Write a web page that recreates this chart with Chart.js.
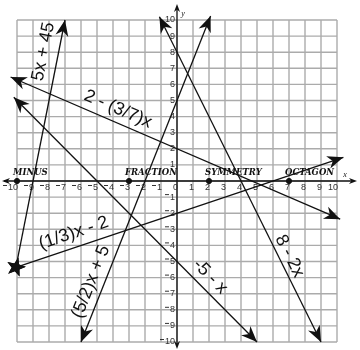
<!DOCTYPE html>
<html>
<head>
<meta charset="utf-8">
<script src="https://cdn.jsdelivr.net/npm/chart.js@4"></script>
<style>
  body { margin: 0; background: #fff; }
</style>
</head>
<body>
<canvas id="graph" width="360" height="350"></canvas>
<script>
// lines and their end points
const lineNames = ['5x + 45', '2 - (3/7)x', '(1/3)x - 2', '(5/2)x + 5', '-5 - x', '8 - 2x']
const startX = [-10.07, -10.4, -10.07, -6, -10.2, -1.1]
const startY = [-5.36, 6.46, -5.36, -10, 5.2, 10.2]
const endX = [-7, 10.2, 10.4, 2.1, 5, 9]
const endY = [10, -2.37, 1.47, 10.25, -10, -10]

// words sitting on the number line
const wordX = [-10, -3, 2, 7]
const words = ['MINUS', 'FRACTION', 'SYMMETRY', 'OCTAGON']

const tickValues = [-10, -9, -8, -7, -6, -5, -4, -3, -2, -1, 0, 1, 2, 3, 4, 5, 6, 7, 8, 9, 10]

// how each line ends and where its name goes (fraction along line, px off the line)
const startTip = ['star', 'arrow', 'star', 'arrow', 'arrow', 'arrow']
const labelT = [0.86, 0.31, 0.19, 0.17, 0.77, 0.75]
const labelOff = [-15, -13, -14, -13, -13, -10]

const labelFont = '18px "Liberation Sans", Arial, sans-serif'

function arrowHead(ctx, tx, ty, fx, fy, len, wid) {
    const a = Math.atan2(ty - fy, tx - fx)
    ctx.save()
    ctx.translate(tx, ty)
    ctx.rotate(a)
    ctx.beginPath()
    ctx.moveTo(0, 0)
    ctx.lineTo(-len, -wid / 2)
    ctx.lineTo(-len * 0.7, 0)
    ctx.lineTo(-len, wid / 2)
    ctx.closePath()
    ctx.fill()
    ctx.restore()
}

function star(ctx, cx, cy, r1, r2) {
    ctx.beginPath()
    for (let i = 0; i < 10; i++) {
        const r = i % 2 == 0 ? r1 : r2
        const a = -Math.PI / 2 + i * Math.PI / 5 + 0.25
        ctx.lineTo(cx + r * Math.cos(a), cy + r * Math.sin(a))
    }
    ctx.closePath()
    ctx.fill()
}

// tick number with a small raised minus, right edge at x
function tickLabel(ctx, v, x, y) {
    const s = String(Math.abs(v))
    ctx.fillText(s, x, y)
    if (v < 0) {
        const w = ctx.measureText(s).width
        ctx.fillRect(x - w - 5, y - 3, 4, 1)
    }
}

// grid, axes and tick numbers
const gridPlugin = {
    id: 'gridPlugin',
    beforeDatasetsDraw(chart) {
        const ctx = chart.ctx
        const xs = chart.scales.x
        const ys = chart.scales.y
        const x0 = xs.getPixelForValue(0)
        const y0 = ys.getPixelForValue(0)
        const left = xs.getPixelForValue(-10), right = xs.getPixelForValue(10)
        const top = ys.getPixelForValue(10), bottom = ys.getPixelForValue(-10)

        ctx.save()
        ctx.strokeStyle = '#ababab'
        ctx.lineWidth = 1.4
        tickValues.forEach(function(v) {
            const px = xs.getPixelForValue(v)
            const py = ys.getPixelForValue(v)
            ctx.beginPath()
            ctx.moveTo(px, top)
            ctx.lineTo(px, bottom)
            ctx.stroke()
            ctx.beginPath()
            ctx.moveTo(left, py)
            ctx.lineTo(right, py)
            ctx.stroke()
        })

        // axes
        ctx.strokeStyle = '#111'
        ctx.fillStyle = '#111'
        ctx.lineWidth = 1.3
        ctx.beginPath()
        ctx.moveTo(4, y0)
        ctx.lineTo(354, y0)
        ctx.moveTo(x0, 7)
        ctx.lineTo(x0, 346)
        ctx.stroke()
        arrowHead(ctx, 357, y0, 300, y0, 8, 6)
        arrowHead(ctx, 2, y0, 100, y0, 8, 6)
        arrowHead(ctx, x0, 4, x0, 100, 8, 6)
        arrowHead(ctx, x0, 349, x0, 200, 8, 6)

        // tick numbers
        ctx.font = '9px "Liberation Sans", Arial, sans-serif'
        ctx.fillStyle = '#333'
        ctx.textBaseline = 'middle'
        ctx.textAlign = 'right'
        tickValues.forEach(function(v) {
            tickLabel(ctx, v, xs.getPixelForValue(v) + 1, y0 + 7)
            if (v != 0) tickLabel(ctx, v, x0 - 2, ys.getPixelForValue(v))
        })

        ctx.font = 'italic 8px "Liberation Serif", serif'
        ctx.fillStyle = '#111'
        ctx.textAlign = 'center'
        ctx.fillText('x', 345, y0 - 6)
        ctx.fillText('y', 183, 14)
        ctx.restore()
    },
    afterDatasetsDraw(chart) {
        const ctx = chart.ctx
        ctx.save()
        ctx.fillStyle = '#111'

        // arrow heads and stars
        lineNames.forEach(function(name, i) {
            const pts = chart.getDatasetMeta(i).data
            const a = pts[0], b = pts[1]
            arrowHead(ctx, b.x, b.y, a.x, a.y, 16, 13)
            if (startTip[i] == 'arrow') arrowHead(ctx, a.x, a.y, b.x, b.y, 16, 13)
            else star(ctx, a.x, a.y, 10, 4.2)
        })

        // line names
        ctx.font = labelFont
        ctx.textAlign = 'center'
        ctx.textBaseline = 'middle'
        lineNames.forEach(function(name, i) {
            const pts = chart.getDatasetMeta(i).data
            const a = pts[0], b = pts[1]
            const ang = Math.atan2(b.y - a.y, b.x - a.x)
            const px = a.x + (b.x - a.x) * labelT[i]
            const py = a.y + (b.y - a.y) * labelT[i]
            ctx.save()
            ctx.translate(px, py)
            ctx.rotate(ang)
            ctx.fillText(name, 0, labelOff[i])
            ctx.restore()
        })

        // number line words
        const wordMeta = chart.getDatasetMeta(lineNames.length).data
        ctx.font = 'bold italic 8.5px "DejaVu Serif", serif'
        ctx.textAlign = 'left'
        ctx.textBaseline = 'alphabetic'
        words.forEach(function(w, i) {
            ctx.fillText(w, wordMeta[i].x - 4, wordMeta[i].y - 6)
        })
        ctx.restore()
    }
}

const datasets = lineNames.map(function(name, i) {
    return {
        label: name,
        data: [{x: startX[i], y: startY[i]}, {x: endX[i], y: endY[i]}],
        showLine: true,
        borderColor: '#111',
        borderWidth: 1.3,
        pointRadius: 0,
        clip: false
    }
})
datasets.push({
    label: 'words',
    data: wordX.map(function(v) { return {x: v, y: 0} }),
    pointRadius: 2.6,
    backgroundColor: '#111',
    borderColor: '#111',
    clip: false
})

const ctx = document.getElementById('graph').getContext('2d')
const myChart = new Chart(ctx, {
    type: 'scatter',
    data: { datasets: datasets },
    options: {
        responsive: false,
        animation: false,
        layout: { padding: { left: 17, right: 23, top: 20, bottom: 8 } },
        scales: {
            x: { type: 'linear', min: -10, max: 10, display: false },
            y: { type: 'linear', min: -10, max: 10, display: false }
        },
        plugins: { legend: { display: false }, tooltip: { enabled: false } }
    },
    plugins: [gridPlugin]
})
</script>
</body>
</html>
